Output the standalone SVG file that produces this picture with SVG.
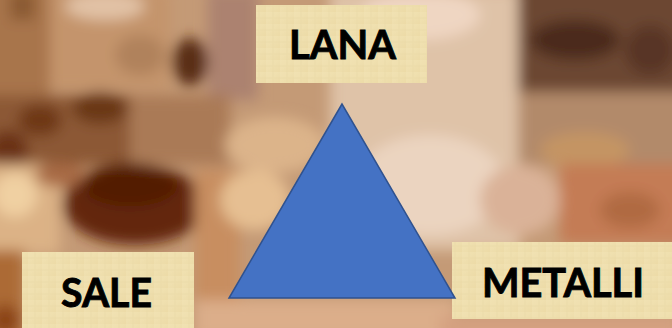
<svg xmlns="http://www.w3.org/2000/svg" width="672" height="328" viewBox="0 0 672 328">
  <defs>
    <filter id="blur" x="-20%" y="-20%" width="140%" height="140%">
      <feGaussianBlur stdDeviation="7"/>
    </filter>
    <linearGradient id="paper" x1="0" y1="0" x2="1" y2="1">
      <stop offset="0" stop-color="#f2e3b6"/>
      <stop offset="0.5" stop-color="#efdfae"/>
      <stop offset="1" stop-color="#ead6a0"/>
    </linearGradient>
    <pattern id="fibre" width="14" height="12" patternUnits="userSpaceOnUse">
      <rect width="14" height="12" fill="url(#paper)"/>
      <path d="M0 6 H14 M7 0 V12" stroke="#e2cf98" stroke-width="1" opacity="0.45"/>
    </pattern>
    <style>
      .box { fill: #efdfae; }
      .tex { fill: url(#fibre); opacity: 0.55; }
      .lbl { font-family: Lato, "Open Sans", "Liberation Sans", sans-serif; font-weight: 700; font-size: 41px; fill: #000; stroke: #000; stroke-width: 0.9px; }
      .tri { fill: #4472c4; stroke: #2f528f; stroke-width: 1.5; }
    </style>
  </defs>

  <!-- background texture -->
  <rect width="672" height="328" fill="#c49a76"/>
  <g filter="url(#blur)">
    <!-- top-left -->
    <rect x="-20" y="-20" width="70" height="120" fill="#a8744c"/>
    <rect x="10" y="-10" width="25" height="30" fill="#8a5a30"/>
    <rect x="50" y="-10" width="120" height="100" fill="#c4946c"/>
    <ellipse cx="105" cy="6" rx="40" ry="14" fill="#e2c2a6"/>
    <ellipse cx="140" cy="55" rx="25" ry="20" fill="#b0825c"/>
    <ellipse cx="190" cy="62" rx="18" ry="24" fill="#5a2e14"/>
    <rect x="208" y="-10" width="50" height="110" fill="#ac8270"/>
    <rect x="-20" y="95" width="150" height="70" fill="#8c5834"/>
    <ellipse cx="40" cy="120" rx="22" ry="16" fill="#6e3818"/>
    <ellipse cx="100" cy="108" rx="28" ry="16" fill="#6a3818"/>
    <ellipse cx="8" cy="150" rx="20" ry="20" fill="#6a3012"/>
    <rect x="130" y="95" width="100" height="70" fill="#aa7a56"/>
    <ellipse cx="275" cy="145" rx="50" ry="28" fill="#dcb48a"/>
    <!-- top-right -->
    <rect x="330" y="-10" width="190" height="260" fill="#dfc3a8"/>
    <ellipse cx="420" cy="15" rx="60" ry="25" fill="#efd6c2"/>
    <ellipse cx="430" cy="185" rx="75" ry="50" fill="#ebd4c0"/>
    <rect x="518" y="-20" width="174" height="112" fill="#6c4632"/>
    <ellipse cx="575" cy="40" rx="45" ry="20" fill="#4c2a1a"/>
    <ellipse cx="650" cy="50" rx="25" ry="25" fill="#583626"/>
    <rect x="518" y="92" width="174" height="72" fill="#b28a6a"/>
    <ellipse cx="585" cy="150" rx="45" ry="18" fill="#c49464"/>
    <!-- bottom-left -->
    <rect x="-20" y="164" width="80" height="90" fill="#dcb286"/>
    <ellipse cx="15" cy="195" rx="22" ry="22" fill="#f0d0a2"/>
    <ellipse cx="135" cy="205" rx="72" ry="40" fill="#64280e"/>
    <ellipse cx="130" cy="185" rx="48" ry="22" fill="#521c06"/>
    <ellipse cx="60" cy="175" rx="25" ry="12" fill="#a86a44"/>
    <rect x="-20" y="250" width="44" height="100" fill="#ac6a34"/>
    <ellipse cx="5" cy="320" rx="15" ry="15" fill="#8a4214"/>
    <rect x="195" y="170" width="45" height="160" fill="#c88e60"/>
    <ellipse cx="255" cy="200" rx="35" ry="30" fill="#e6bf92"/>
    <rect x="195" y="300" width="260" height="40" fill="#dcae8a"/>
    <!-- bottom-right -->
    <rect x="560" y="164" width="130" height="80" fill="#c47c54"/>
    <ellipse cx="630" cy="210" rx="30" ry="18" fill="#b06a42"/>
    <ellipse cx="520" cy="200" rx="40" ry="35" fill="#dab298"/>
    <rect x="440" y="315" width="240" height="30" fill="#d4a080"/>
  </g>

  <!-- label nodes -->
  <g id="node-lana">
    <rect class="box" x="256" y="5" width="171" height="78"/>
    <rect class="tex" x="256" y="5" width="171" height="78"/>
    <text class="lbl" x="289" y="59" textLength="107" lengthAdjust="spacingAndGlyphs">LANA</text>
  </g>
  <g id="node-sale">
    <rect class="box" x="22" y="252" width="172" height="76"/>
    <rect class="tex" x="22" y="252" width="172" height="76"/>
    <text class="lbl" x="61" y="307" textLength="91" lengthAdjust="spacingAndGlyphs">SALE</text>
  </g>
  <g id="node-metalli">
    <rect class="box" x="452" y="242" width="220" height="77"/>
    <rect class="tex" x="452" y="242" width="220" height="77"/>
    <text class="lbl" x="482" y="297" textLength="162" lengthAdjust="spacingAndGlyphs">METALLI</text>
  </g>

  <!-- connectors: the triangle -->
  <g id="connectors">
    <polygon class="tri" points="342,104 229,298 455,298"/>
  </g>
</svg>
